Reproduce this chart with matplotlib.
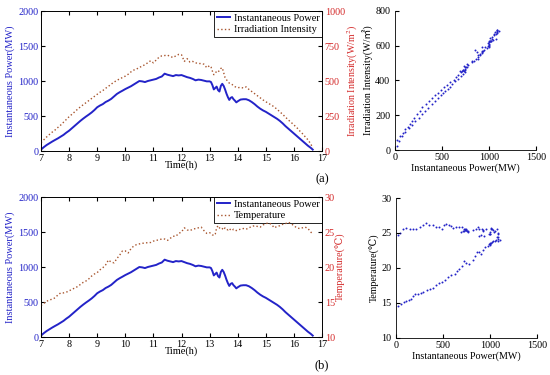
import matplotlib
matplotlib.use("Agg")
import matplotlib.pyplot as plt

plt.rcParams['font.family'] = ['Liberation Serif', 'DejaVu Serif', 'Noto Sans CJK SC']
plt.rcParams['mathtext.fontset'] = 'stix'

time_h = [7.0, 7.1, 7.2, 7.3, 7.4, 7.5, 7.6, 7.7, 7.8, 7.9,
          8.0, 8.1, 8.2, 8.3, 8.4, 8.5, 8.6, 8.7, 8.8, 8.9,
          9.0, 9.1, 9.2, 9.3, 9.4, 9.5, 9.6, 9.7, 9.8, 9.9,
          10.0, 10.1, 10.2, 10.3, 10.4, 10.5, 10.6, 10.7, 10.8, 10.9,
          11.0, 11.1, 11.2, 11.3, 11.4, 11.5, 11.6, 11.7, 11.8, 11.9,
          12.0, 12.1, 12.2, 12.3, 12.4, 12.5, 12.6, 12.7, 12.8, 12.9,
          13.0, 13.05, 13.1, 13.15, 13.2, 13.25, 13.3, 13.35, 13.4, 13.45,
          13.5, 13.55, 13.6, 13.65, 13.7, 13.75, 13.8, 13.85, 13.9, 13.95,
          14.0, 14.1, 14.2, 14.3, 14.4, 14.5, 14.6, 14.7, 14.8, 14.9,
          15.0, 15.1, 15.2, 15.3, 15.4, 15.5, 15.6, 15.7, 15.8, 15.9,
          16.0, 16.1, 16.2, 16.3, 16.4, 16.5, 16.6, 16.67]

power_mw = [20, 55, 85, 110, 135, 158, 180, 205, 230, 262,
            290, 325, 360, 395, 430, 462, 492, 520, 550, 585,
            625, 650, 670, 700, 720, 745, 780, 815, 840, 862,
            885, 905, 925, 950, 975, 1000, 995, 985, 1000, 1010,
            1020, 1030, 1050, 1065, 1105, 1090, 1080, 1070, 1085, 1080,
            1085, 1070, 1055, 1045, 1030, 1010, 1020, 1015, 1005, 995,
            995, 985, 940, 880, 900, 920, 870, 850, 930, 960,
            930, 880, 820, 770, 730, 760, 770, 740, 720, 695,
            710, 735, 740, 740, 725, 700, 670, 635, 605, 580,
            560, 535, 510, 485, 460, 430, 395, 355, 320, 285,
            250, 215, 180, 145, 110, 75, 45, 20]

irradiance = [60, 80, 100, 118, 135, 150, 168, 185, 205, 225,
              245, 262, 280, 298, 315, 330, 345, 360, 375, 390,
              405, 420, 432, 448, 462, 478, 492, 505, 515, 525,
              535, 548, 565, 578, 585, 598, 605, 618, 630, 645,
              630, 650, 670, 680, 682, 685, 675, 668, 680, 690,
              688, 640, 660, 635, 640, 630, 625, 625, 620, 595,
              610, 600, 570, 545, 555, 570, 565, 575, 590, 595,
              560, 525, 510, 495, 485, 480, 475, 468, 460, 455,
              452, 455, 450, 458, 440, 425, 410, 395, 380, 365,
              352, 340, 328, 315, 298, 280, 262, 242, 222, 205,
              186, 168, 145, 125, 102, 80, 50, 22]

temperature = [14.5, 14.8, 15.1, 15.3, 15.4, 15.6, 16.0, 16.3, 16.3, 16.4,
               16.6, 16.8, 17.0, 17.2, 17.5, 17.8, 18.0, 18.3, 18.7, 19.0,
               19.2, 19.6, 19.9, 20.3, 21.0, 20.7, 20.6, 21.2, 21.7, 22.3,
               22.3, 22.0, 22.6, 23.0, 23.2, 23.3, 23.4, 23.4, 23.5, 23.5,
               23.7, 23.8, 23.9, 24.0, 24.0, 23.8, 24.1, 24.4, 24.4, 24.8,
               25.0, 25.6, 25.3, 25.2, 25.4, 25.5, 25.6, 25.7, 25.2, 24.8,
               24.9, 24.8, 24.6, 24.5, 24.7, 25.6, 25.9, 25.6, 25.4, 25.5,
               25.3, 25.6, 25.4, 25.3, 25.5, 25.3, 25.2, 25.4, 25.3, 25.2,
               25.3, 25.4, 25.5, 25.4, 25.6, 25.8, 25.9, 25.8, 25.7, 26.0,
               26.2, 26.3, 26.1, 25.6, 25.8, 25.9, 26.1, 26.2, 26.4, 26.2,
               25.9, 25.6, 25.5, 25.6, 25.7, 25.5, 25.0, 24.7]

time_ticks = [7, 8, 9, 10, 11, 12, 13, 14, 15, 16, 17]
power_ticks = [0, 500, 1000, 1500, 2000]
irr_ticks = [0, 250, 500, 750, 1000]
temp_ticks = [10, 15, 20, 25, 30]
scatter_x_ticks = [0, 500, 1000, 1500]
scatter_irr_ticks = [0, 200, 400, 600, 800]

BLUE = '#2323c8'
BROWN = '#a8552e'
RED = '#d42a2a'
FS = 7.3
LFS = 7.2

fig = plt.figure(figsize=(5.5, 3.75), dpi=100)


def line_panel(rect, y2, y2lim, y2ticks, y2label, label2, tag):
    ax = fig.add_axes(rect)
    ax2 = ax.twinx()
    l1, = ax.plot(time_h, power_mw, color=BLUE, lw=1.4, label='Instantaneous Power')
    l2, = ax2.plot(time_h, y2, color=BROWN, lw=1.0, ls=':', label=label2)
    ax.set_xlim(7, 17)
    ax.set_ylim(0, 2000)
    ax.set_xticks(time_ticks)
    ax.set_yticks(power_ticks)
    ax2.set_ylim(*y2lim)
    ax2.set_yticks(y2ticks)
    ax.tick_params(axis='both', direction='in', length=3, labelsize=FS, pad=2, top=True)
    ax.tick_params(axis='y', labelcolor=BLUE)
    ax2.tick_params(axis='y', direction='in', length=3, labelsize=FS, pad=2, labelcolor=RED)
    ax.set_xlabel('Time(h)', fontsize=LFS + 0.3, labelpad=-2)
    ax.set_ylabel('Instantaneous Power(MW)', fontsize=LFS + 0.3, color=BLUE, labelpad=2)
    ax2.set_ylabel(y2label, fontsize=LFS, color=RED, labelpad=0.5)
    for a in (ax, ax2):
        for s in a.spines.values():
            s.set_linewidth(0.6)
    leg = ax.legend(handles=[l1, l2], loc='upper right', fontsize=7.5, borderaxespad=0,
                    handlelength=1.3, handletextpad=0.3, labelspacing=0.2,
                    borderpad=0.25, fancybox=False, framealpha=1, edgecolor='black')
    leg.get_frame().set_linewidth(0.6)
    ax.text(1.0, -0.2, tag, transform=ax.transAxes, ha='center', va='center', fontsize=9)
    return ax


def scatter_panel(rect, y, ylim, yticks, ylabel):
    ax = fig.add_axes(rect)
    ax.scatter(power_mw, y, s=2.0, color=BLUE, marker='o', linewidths=0)
    ax.set_xlim(0, 1500)
    ax.set_ylim(*ylim)
    ax.set_xticks(scatter_x_ticks)
    ax.set_yticks(yticks)
    ax.spines['top'].set_visible(False)
    ax.spines['right'].set_visible(False)
    for s in ax.spines.values():
        s.set_linewidth(0.6)
    ax.tick_params(axis='both', direction='in', length=3, labelsize=FS, pad=2)
    ax.tick_params(axis='y', pad=3.5)
    ax.set_xlabel('Instantaneous Power(MW)', fontsize=LFS, labelpad=1)
    ax.set_ylabel(ylabel, fontsize=LFS, labelpad=0.5)
    return ax


line_panel([0.0745, 0.5973, 0.511, 0.3733], irradiance, (0, 1000), irr_ticks,
           'Irradiation Intensity(W/m$^2$)', 'Irradiation Intensity', '(a)')
line_panel([0.0745, 0.1013, 0.511, 0.3733], temperature, (10, 30), temp_ticks,
           'Temperature(\u2103)', 'Temperature', '(b)')
scatter_panel([0.7182, 0.6, 0.2564, 0.3707], irradiance, (0, 800), scatter_irr_ticks,
              'Irradiation Intensity(W/\u33a1)')
scatter_panel([0.72, 0.0987, 0.2564, 0.3733], temperature, (10, 30), temp_ticks,
              'Temperature(\u2103)')

fig.savefig('out.png', dpi=100)
